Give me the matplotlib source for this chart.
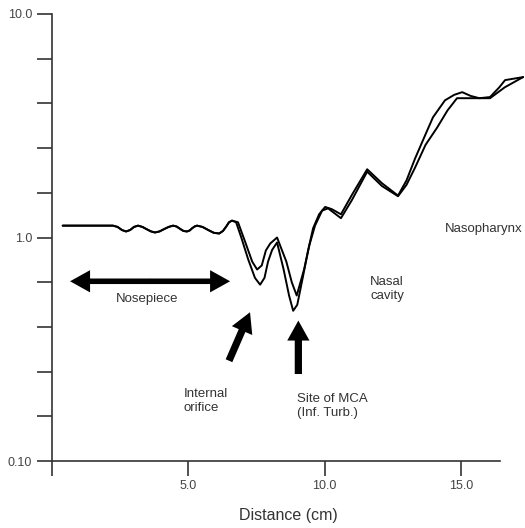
import numpy as np
import matplotlib
matplotlib.use('Agg')
import matplotlib.pyplot as plt
from matplotlib.ticker import FixedLocator, NullFormatter

plt.rcParams['font.family'] = ['Liberation Sans', 'DejaVu Sans']

dist_nose = [0.41, 2.25, 2.42, 2.58, 2.73, 2.88, 3.02, 3.17, 3.33, 3.48, 3.64, 3.79, 3.96,
             4.12, 4.29, 4.45, 4.58, 4.70, 4.83, 4.96, 5.06, 5.15, 5.24, 5.33, 5.53, 5.74,
             5.94, 6.14, 6.28, 6.40, 6.50, 6.61]
area_nose = [1.13, 1.13, 1.115, 1.08, 1.064, 1.08, 1.115, 1.13, 1.115, 1.09, 1.065, 1.053,
             1.065, 1.09, 1.115, 1.13, 1.12, 1.095, 1.07, 1.064, 1.075, 1.10, 1.12, 1.13,
             1.115, 1.08, 1.05, 1.042, 1.07, 1.12, 1.17, 1.19]

# pharynx part, measurement A (deeper minima)
dist_a = [6.76, 6.95, 7.20, 7.45, 7.64, 7.80, 7.93, 8.08, 8.26, 8.50, 8.70, 8.85,
          9.00, 9.20, 9.40, 9.58, 9.80, 10.02, 10.26, 10.60, 11.00, 11.56, 12.10, 12.69,
          13.00, 13.31, 13.70, 13.97, 14.41, 14.75, 15.04, 15.35, 15.67, 16.06, 16.40,
          16.61, 17.27]
area_a = [1.17, 1.00, 0.80, 0.66, 0.615, 0.66, 0.78, 0.88, 0.95, 0.72, 0.55, 0.47,
          0.50, 0.66, 0.88, 1.10, 1.27, 1.37, 1.34, 1.27, 1.55, 2.02, 1.75, 1.54,
          1.80, 2.25, 2.90, 3.45, 4.11, 4.35, 4.47, 4.30, 4.20, 4.25, 4.70,
          5.06, 5.22]

# pharynx part, measurement B (shallower minima)
dist_b = [6.83, 7.10, 7.35, 7.53, 7.70, 7.85, 8.01, 8.26, 8.60, 8.80, 8.98,
          9.25, 9.45, 9.65, 9.91, 10.13, 10.60, 11.00, 11.56, 12.10, 12.69,
          13.00, 13.31, 13.70, 14.12, 14.50, 14.85, 15.50, 16.06, 16.60, 17.27]
area_b = [1.17, 0.95, 0.78, 0.719, 0.75, 0.875, 0.94, 1.00, 0.78, 0.63, 0.55,
          0.72, 0.93, 1.13, 1.32, 1.35, 1.22, 1.47, 1.97, 1.70, 1.53,
          1.72, 2.05, 2.60, 3.10, 3.70, 4.20, 4.20, 4.20, 4.70, 5.22]

xticks = [0, 5, 10, 15]
xticklabels = ['', '5.0', '10.0', '15.0']
yticks = [0.1, 1.0, 10.0]
yticklabels = ['0.10', '1.0', '10.0']

fig = plt.figure(figsize=(5.25, 5.28), dpi=100)
ax = fig.add_axes([51.5 / 525, 1 - 461 / 528, 1 - 51.5 / 525, (461 - 14) / 528])

for d, a in [(dist_a, area_a), (dist_b, area_b)]:
    ax.plot(dist_nose + d, area_nose + a, color='black', lw=1.4,
            solid_joinstyle='round', solid_capstyle='round')

ax.set_yscale('log')
ax.set_xlim(0, 17.34)
ax.set_ylim(0.1, 10)

ax.spines['top'].set_visible(False)
ax.spines['right'].set_visible(False)
ax.spines['bottom'].set_bounds(0, 16.43)
for s in ['left', 'bottom']:
    ax.spines[s].set_linewidth(1.2)
    ax.spines[s].set_color('#333333')

ax.set_xticks(xticks)
ax.set_xticklabels(xticklabels)
ax.yaxis.set_major_locator(FixedLocator(yticks))
ax.set_yticklabels(yticklabels)
minor = [10 ** (k / 5) for k in range(-4, 5) if k % 5 != 0]
ax.yaxis.set_minor_locator(FixedLocator(minor))
ax.yaxis.set_minor_formatter(NullFormatter())
ax.tick_params(which='both', direction='out', length=11, width=1.2, color='#333333',
               labelsize=9, labelcolor='#444444', pad=3)

ax.set_xlabel('Distance (cm)', fontsize=11.5, color='#333333', labelpad=11)

txt = dict(fontsize=9.5, color='#333333')
ax.text(3.49, 0.531, 'Nosepiece', ha='center', va='center', **txt)
ax.text(4.83, 0.186, 'Internal\norifice', ha='left', va='center', linespacing=1.2, **txt)
ax.text(8.98, 0.1765, 'Site of MCA\n(Inf. Turb.)', ha='left', va='center', linespacing=1.2, **txt)
ax.text(11.67, 0.59, 'Nasal\ncavity', ha='left', va='center', linespacing=1.2, **txt)
ax.text(14.41, 1.086, 'Nasopharynx', ha='left', va='center', **txt)

arrow = dict(arrowstyle='simple,head_length=0.72,head_width=0.8,tail_width=0.2',
             color='black', lw=0, shrinkA=0, shrinkB=0, mutation_scale=20)
# double arrow under nosepiece: two halves from the middle
ax.annotate('', xy=(0.68, 0.637), xytext=(3.61, 0.637), arrowprops=arrow)
ax.annotate('', xy=(6.54, 0.637), xytext=(3.6, 0.637), arrowprops=arrow)
arrow2 = dict(arrow, arrowstyle='simple,head_length=0.72,head_width=0.8,tail_width=0.26')
ax.annotate('', xy=(7.27, 0.463), xytext=(6.5, 0.281), arrowprops=arrow2)
ax.annotate('', xy=(9.04, 0.425), xytext=(9.04, 0.245), arrowprops=arrow2)

fig.savefig('out.png', dpi=100)
